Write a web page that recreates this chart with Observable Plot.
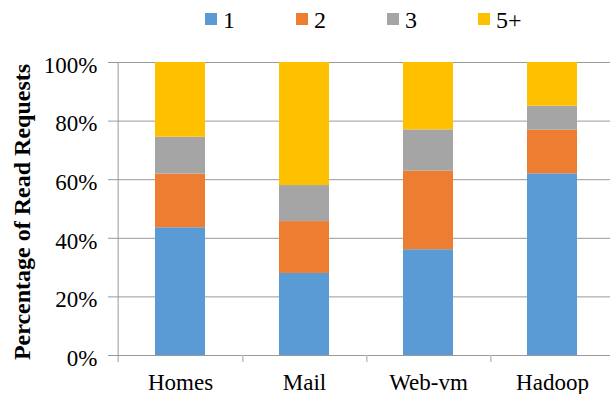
<!DOCTYPE html>
<html>
<head>
<meta charset="utf-8">
<script src="https://cdn.jsdelivr.net/npm/d3@7"></script>
<script src="https://cdn.jsdelivr.net/npm/@observablehq/plot@0.6"></script>
<style>
  body { margin: 0; background: #fff; font-family: "Liberation Serif", serif; }
  #legend { position: relative; width: 610px; height: 40px; }
  .item { position: absolute; top: 0; height: 40px; display: flex; align-items: center; font-family: "Liberation Serif", serif; font-size: 24px; color: #000; white-space: nowrap; }
  .sw { width: 12px; height: 12px; margin-right: 6px; position: relative; top: -1.3px; }
  #chart svg { display: block; }
</style>
</head>
<body>
<div id="legend"></div>
<div id="chart"></div>
<script>
// Share of read requests (%) by request count, per workload
const categories = ["Homes", "Mail", "Web-vm", "Hadoop"];
const seriesNames = ["1", "2", "3", "5+"];
const colors = ["#5B9BD5", "#ED7D31", "#A5A5A5", "#FFC000"];
const share1 = [43.6, 28.0, 36.1, 62.0];
const share2 = [18.3, 17.7, 26.8, 14.9];
const share3 = [12.6, 12.3, 14.1, 8.2];
const share5plus = [25.5, 42.0, 23.0, 14.9];
const yTicks = [0, 20, 40, 60, 80, 100];
const yTitle = "Percentage of Read Requests";

const seriesValues = [share1, share2, share3, share5plus];
const data = categories.flatMap((category, i) =>
  seriesNames.map((series, j) => ({category, series, value: seriesValues[j][i]}))
);

// Legend row above the plot
const legend = document.getElementById("legend");
seriesNames.forEach((name, j) => {
  const item = document.createElement("div");
  item.className = "item";
  item.style.left = (205 + 91 * j) + "px";
  const sw = document.createElement("span");
  sw.className = "sw";
  sw.style.background = colors[j];
  const label = document.createElement("span");
  label.textContent = name;
  item.append(sw, label);
  legend.append(item);
});

// Band layout: bars take 40% of each category slot
const xRange = [116, 614.8];
const paddingInner = 0.6, paddingOuter = 0.3;
const step = (xRange[1] - xRange[0]) / (categories.length - paddingInner + 2 * paddingOuter);
const grid = "#999";
const serif = '"Liberation Serif", serif';

const chart = Plot.plot({
  width: 610,
  height: 354,
  marginTop: 22,
  marginBottom: 39,
  marginLeft: 116,
  marginRight: 0,
  style: {fontFamily: serif, fontSize: "23px", color: "#000", background: "#fff", overflow: "visible"},
  x: {domain: categories, range: xRange, paddingInner, paddingOuter, label: null},
  y: {domain: [0, 100], label: null},
  color: {domain: seriesNames, range: colors},
  marks: [
    // horizontal gridlines, extended left to form the tick marks
    Plot.ruleY(yTicks, {stroke: grid, strokeWidth: 1, insetLeft: -8}),
    // vertical axis line, dropping slightly below zero
    Plot.ruleX([categories[0]], {dx: -step / 2, y1: 100, y2: 0, insetBottom: -7, stroke: grid, strokeWidth: 1}),
    // category boundary ticks
    Plot.axisX({tickSize: 7, dx: step / 2, fill: "none", stroke: "#c0c0c0", strokeWidth: 1.5, label: null}),
    // category labels
    Plot.axisX({tickSize: 0, tickPadding: 18.5, fontSize: 23, fontFamily: serif, label: null}),
    Plot.axisY({ticks: yTicks, tickSize: 0, tickPadding: 19, tickFormat: d => d + "%", dy: 3, fontSize: 23, fontFamily: serif, label: null}),
    Plot.barY(data, {x: "category", y: "value", fill: "series", order: seriesNames}),
    Plot.text([yTitle], {frameAnchor: "left", rotate: -90, dx: -94, dy: 3, textAnchor: "middle", lineAnchor: "middle", fontWeight: "bold", fontSize: 24, fontFamily: serif, fill: "#000"})
  ]
});
document.getElementById("chart").append(chart);
</script>
</body>
</html>
